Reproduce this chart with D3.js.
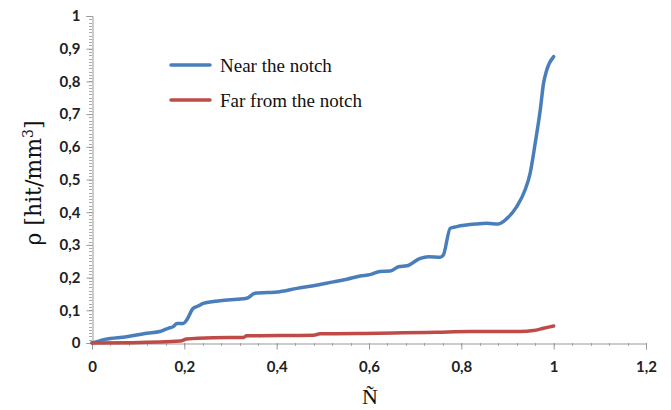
<!DOCTYPE html>
<html>
<head>
<meta charset="utf-8">
<script src="https://cdn.jsdelivr.net/npm/d3@7"></script>
<style>
  body { margin: 0; background: #fff; }
  .tick-label { font-family: Lato, "Open Sans", sans-serif; font-size: 15px; fill: #222; font-weight: bold; }
  .serif { font-family: "Liberation Serif", "DejaVu Serif", serif; fill: #111; }
</style>
</head>
<body>
<div class="canvas"></div>
<script>
// data
const nearX = [0, 0.028, 0.075, 0.119, 0.147, 0.165, 0.176, 0.184, 0.198, 0.205, 0.219, 0.230, 0.241, 0.277, 0.314, 0.335, 0.353, 0.407, 0.444, 0.480, 0.523, 0.552, 0.581, 0.602, 0.624, 0.646, 0.664, 0.682, 0.711, 0.729, 0.754, 0.761, 0.776, 0.790, 0.834, 0.855, 0.880, 0.899, 0.920, 0.938, 0.949, 0.960, 0.971, 0.978, 0.985, 1.0];
const nearY = [0, 0.011, 0.019, 0.030, 0.035, 0.045, 0.050, 0.060, 0.060, 0.070, 0.106, 0.113, 0.121, 0.129, 0.134, 0.137, 0.152, 0.157, 0.167, 0.175, 0.187, 0.195, 0.205, 0.209, 0.219, 0.220, 0.233, 0.236, 0.259, 0.264, 0.262, 0.269, 0.351, 0.356, 0.364, 0.366, 0.364, 0.381, 0.417, 0.468, 0.519, 0.611, 0.713, 0.794, 0.835, 0.876];

const farX = [0, 0.082, 0.191, 0.205, 0.263, 0.328, 0.335, 0.480, 0.494, 0.624, 0.674, 0.747, 0.819, 0.927, 0.956, 0.978, 1.0];
const farY = [0, 0.001, 0.006, 0.012, 0.016, 0.017, 0.022, 0.024, 0.028, 0.030, 0.031, 0.033, 0.035, 0.035, 0.038, 0.045, 0.052];

const xTicks = [0, 0.2, 0.4, 0.6, 0.8, 1, 1.2];
const yTicks = [0, 0.1, 0.2, 0.3, 0.4, 0.5, 0.6, 0.7, 0.8, 0.9, 1];

const seriesNames = ['Near the notch', 'Far from the notch'];
const seriesColours = ['#4a7ebb', '#be4b48'];

const dims = { width: 671, height: 410 };
const plot = { left: 92, right: 646, top: 16, bottom: 343 };

const svg = d3.select('.canvas')
    .append('svg')
    .attr('width', dims.width)
    .attr('height', dims.height);

const x = d3.scaleLinear().domain([0, 1.2]).range([plot.left, plot.right]);
const y = d3.scaleLinear().domain([0, 1]).range([plot.bottom, plot.top]);

const fmt = d => String(d).replace('.', ',');

// minor ticks on y (every 0.01)
const yMinor = d3.range(0, 101).map(i => i / 100);
svg.append('g')
    .selectAll('line')
    .data(yMinor)
    .join('line')
    .attr('x1', plot.left - 3)
    .attr('x2', plot.left)
    .attr('y1', d => Math.round(y(d)) + 0.5)
    .attr('y2', d => Math.round(y(d)) + 0.5)
    .attr('stroke', '#aaa');

// minor ticks on x (every 0.04)
const xMinor = d3.range(0, 31).map(i => i * 0.04);
svg.append('g')
    .selectAll('line')
    .data(xMinor)
    .join('line')
    .attr('x1', d => Math.round(x(d)) + 0.5)
    .attr('x2', d => Math.round(x(d)) + 0.5)
    .attr('y1', plot.bottom)
    .attr('y2', plot.bottom + 3)
    .attr('stroke', '#aaa');

// y axis
const yAxis = svg.append('g')
    .attr('transform', `translate(${plot.left + 0.5},0)`)
    .call(d3.axisLeft(y).tickValues(yTicks).tickFormat(fmt).tickSize(6).tickPadding(6));
yAxis.select('.domain').attr('stroke', '#999');
yAxis.selectAll('.tick line').attr('stroke', '#999');
yAxis.selectAll('text').attr('class', 'tick-label').attr('font-size', null).attr('font-family', null).attr('fill', null);

// x axis
const xAxis = svg.append('g')
    .attr('transform', `translate(0,${plot.bottom + 0.5})`)
    .call(d3.axisBottom(x).tickValues(xTicks).tickFormat(fmt).tickSize(6).tickPadding(12));
xAxis.select('.domain').attr('stroke', '#999');
xAxis.selectAll('.tick line').attr('stroke', '#999');
xAxis.selectAll('text').attr('class', 'tick-label').attr('font-size', null).attr('font-family', null).attr('fill', null);

// lines
const line = d3.line()
    .x(d => x(d[0]))
    .y(d => y(d[1]))
    .curve(d3.curveMonotoneX);

const series = [
    d3.zip(nearX, nearY),
    d3.zip(farX, farY)
];

svg.append('g')
    .selectAll('path')
    .data(series)
    .join('path')
    .attr('d', line)
    .attr('fill', 'none')
    .attr('stroke', (d, i) => seriesColours[i])
    .attr('stroke-width', 3.5)
    .attr('stroke-linejoin', 'round')
    .attr('stroke-linecap', 'round');

// legend
const legend = svg.append('g').attr('transform', 'translate(171,65)');
const items = legend.selectAll('g')
    .data(seriesNames)
    .join('g')
    .attr('transform', (d, i) => `translate(0,${i * 35})`);
items.append('line')
    .attr('x1', 0).attr('x2', 39)
    .attr('stroke', (d, i) => seriesColours[i])
    .attr('stroke-width', 3.5)
    .attr('stroke-linecap', 'round');
items.append('text')
    .attr('class', 'serif')
    .attr('x', 49)
    .attr('dy', '0.35em')
    .attr('font-size', 19)
    .text(d => d);

// axis titles
svg.append('text')
    .attr('class', 'serif')
    .attr('text-anchor', 'middle')
    .attr('font-size', 22)
    .attr('x', 370)
    .attr('y', 404)
    .text('Ñ');

const yTitle = svg.append('text')
    .attr('text-anchor', 'middle')
    .attr('font-family', '"DejaVu Serif", serif')
    .attr('fill', '#111')
    .attr('font-size', 22)
    .attr('transform', 'translate(41,183) rotate(-90)');
yTitle.append('tspan').text('ρ [hit/mm');
yTitle.append('tspan').attr('font-size', 14).attr('baseline-shift', 'super').text('3');
yTitle.append('tspan').text(']');
</script>
</body>
</html>
